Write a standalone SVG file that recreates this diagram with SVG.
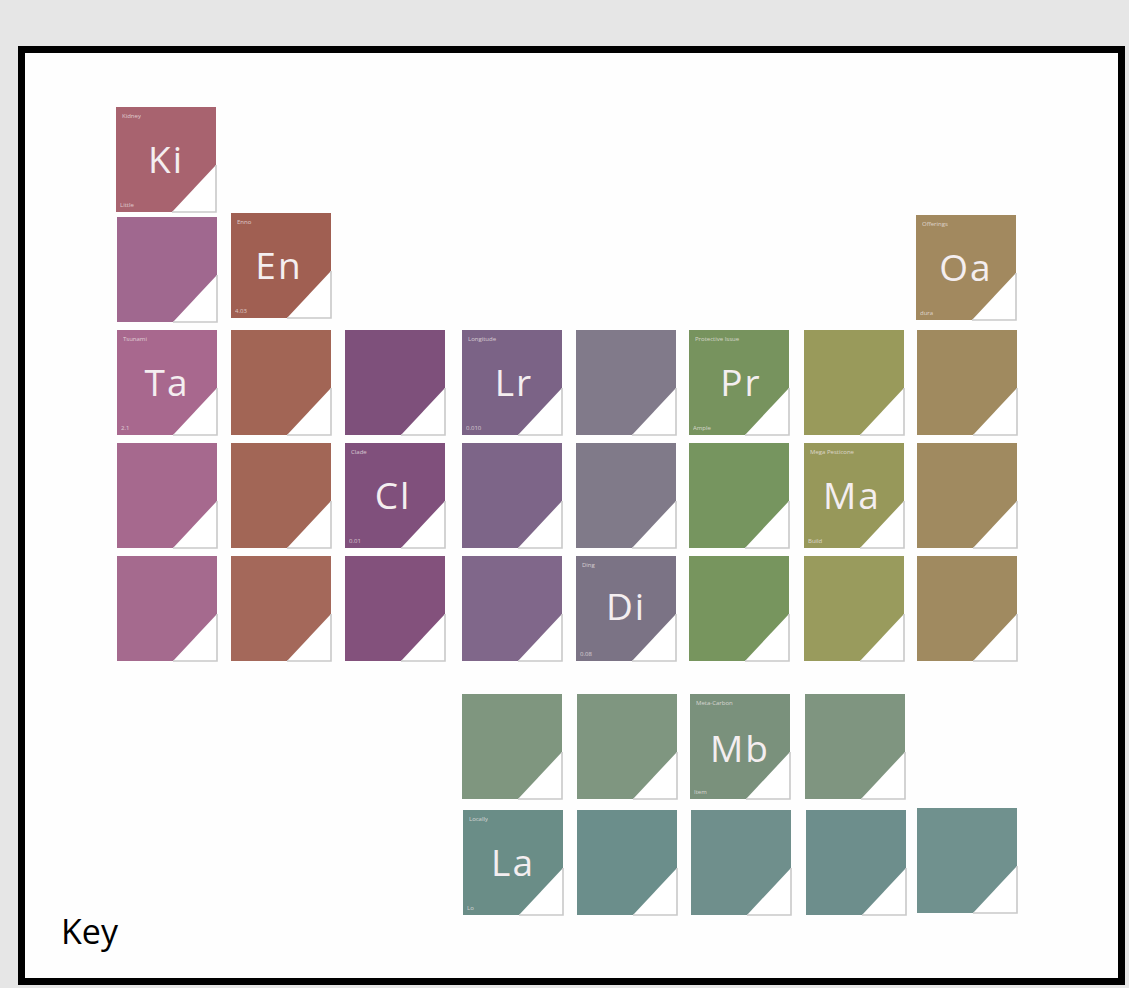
<svg xmlns="http://www.w3.org/2000/svg" width="1129" height="988" viewBox="0 0 1129 988">
<style>
.sym{font-family:"Open Sans","Liberation Sans",sans-serif;font-size:37px;fill:#f4eef0;text-anchor:middle;letter-spacing:2px}
.sm{font-family:"Open Sans","Liberation Sans",sans-serif;font-size:6px;fill:#f2eaea;opacity:0.75}
.cut{fill:#ffffff}
.edge{fill:none;stroke:#c9c9c9;stroke-width:1.6}
.key{font-family:"Open Sans","Liberation Sans",sans-serif;font-size:34px;fill:#000}
</style>
<defs>
<g id="corner">
<polygon class="cut" points="100,58 100,105 56,105"/>
<polyline class="edge" points="100,58 100,105 56,105"/>
</g>
</defs>
<rect width="1129" height="988" fill="#e6e6e6"/>
<rect x="21.5" y="49.5" width="1100" height="932" fill="#fefefe" stroke="#000" stroke-width="7"/>
<g id="nodes">
<g id="Ki" transform="translate(116,107)"><rect width="100" height="105" fill="#a8636f"/><use href="#corner"/><text class="sm" x="6" y="11">Kidney</text><text class="sm" x="4" y="100">Little</text><text class="sym" x="50" y="66">Ki</text></g>
<g id="r2c1" transform="translate(117,217)"><rect width="100" height="105" fill="#a0688f"/><use href="#corner"/></g>
<g id="En" transform="translate(231,213)"><rect width="100" height="105" fill="#a05f52"/><use href="#corner"/><text class="sm" x="6" y="11">Enno</text><text class="sm" x="4" y="100">4.03</text><text class="sym" x="48" y="66">En</text></g>
<g id="Oa" transform="translate(916,215)"><rect width="100" height="105" fill="#a2895f"/><use href="#corner"/><text class="sm" x="6" y="11">Offerings</text><text class="sm" x="4" y="100">dura</text><text class="sym" x="50" y="66">Oa</text></g>

<g id="Ta" transform="translate(117,330)"><rect width="100" height="105" fill="#a8688e"/><use href="#corner"/><text class="sm" x="6" y="11">Tsunami</text><text class="sm" x="4" y="100">2.1</text><text class="sym" x="50" y="66">Ta</text></g>
<g id="r3c2" transform="translate(231,330)"><rect width="100" height="105" fill="#a26555"/><use href="#corner"/></g>
<g id="r3c3" transform="translate(345,330)"><rect width="100" height="105" fill="#7e507b"/><use href="#corner"/></g>
<g id="Lr" transform="translate(462,330)"><rect width="100" height="105" fill="#7b6386"/><use href="#corner"/><text class="sm" x="6" y="11">Longitude</text><text class="sm" x="4" y="100">0.010</text><text class="sym" x="52" y="66">Lr</text></g>
<g id="r3c5" transform="translate(576,330)"><rect width="100" height="105" fill="#817a8a"/><use href="#corner"/></g>
<g id="Pr" transform="translate(689,330)"><rect width="100" height="105" fill="#77935e"/><use href="#corner"/><text class="sm" x="6" y="11">Protective Issue</text><text class="sm" x="4" y="100">Ample</text><text class="sym" x="52" y="66">Pr</text></g>
<g id="r3c7" transform="translate(804,330)"><rect width="100" height="105" fill="#999a5b"/><use href="#corner"/></g>
<g id="r3c8" transform="translate(917,330)"><rect width="100" height="105" fill="#a08a5f"/><use href="#corner"/></g>

<g id="r4c1" transform="translate(117,443)"><rect width="100" height="105" fill="#a6698e"/><use href="#corner"/></g>
<g id="r4c2" transform="translate(231,443)"><rect width="100" height="105" fill="#a26656"/><use href="#corner"/></g>
<g id="Cl" transform="translate(345,443)"><rect width="100" height="105" fill="#80507c"/><use href="#corner"/><text class="sm" x="6" y="11">Clade</text><text class="sm" x="4" y="100">0.01</text><text class="sym" x="48" y="66">Cl</text></g>
<g id="r4c4" transform="translate(462,443)"><rect width="100" height="105" fill="#7d6588"/><use href="#corner"/></g>
<g id="r4c5" transform="translate(576,443)"><rect width="100" height="105" fill="#807a89"/><use href="#corner"/></g>
<g id="r4c6" transform="translate(689,443)"><rect width="100" height="105" fill="#76955f"/><use href="#corner"/></g>
<g id="Ma" transform="translate(804,443)"><rect width="100" height="105" fill="#97985a"/><use href="#corner"/><text class="sm" x="6" y="11">Mega Pesticone</text><text class="sm" x="4" y="100">Build</text><text class="sym" x="48" y="66">Ma</text></g>
<g id="r4c8" transform="translate(917,443)"><rect width="100" height="105" fill="#a08a60"/><use href="#corner"/></g>

<g id="r5c1" transform="translate(117,556)"><rect width="100" height="105" fill="#a56a8e"/><use href="#corner"/></g>
<g id="r5c2" transform="translate(231,556)"><rect width="100" height="105" fill="#a4685a"/><use href="#corner"/></g>
<g id="r5c3" transform="translate(345,556)"><rect width="100" height="105" fill="#83517c"/><use href="#corner"/></g>
<g id="r5c4" transform="translate(462,556)"><rect width="100" height="105" fill="#80678a"/><use href="#corner"/></g>
<g id="Di" transform="translate(576,556)"><rect width="100" height="105" fill="#7b7385"/><use href="#corner"/><text class="sm" x="6" y="11">Ding</text><text class="sm" x="4" y="100">0.08</text><text class="sym" x="50" y="64">Di</text></g>
<g id="r5c6" transform="translate(689,556)"><rect width="100" height="105" fill="#77955e"/><use href="#corner"/></g>
<g id="r5c7" transform="translate(804,556)"><rect width="100" height="105" fill="#999b5d"/><use href="#corner"/></g>
<g id="r5c8" transform="translate(917,556)"><rect width="100" height="105" fill="#a08a60"/><use href="#corner"/></g>

<g id="r6c4" transform="translate(462,694)"><rect width="100" height="105" fill="#7f967f"/><use href="#corner"/></g>
<g id="r6c5" transform="translate(577,694)"><rect width="100" height="105" fill="#7f9680"/><use href="#corner"/></g>
<g id="Mb" transform="translate(690,694)"><rect width="100" height="105" fill="#7a917c"/><use href="#corner"/><text class="sm" x="6" y="11">Meta-Carbon</text><text class="sm" x="4" y="100">Item</text><text class="sym" x="50" y="68">Mb</text></g>
<g id="r6c7" transform="translate(805,694)"><rect width="100" height="105" fill="#7f9580"/><use href="#corner"/></g>

<g id="La" transform="translate(463,810)"><rect width="100" height="105" fill="#6a8d87"/><use href="#corner"/><text class="sm" x="6" y="11">Locally</text><text class="sm" x="4" y="100">Lo</text><text class="sym" x="50" y="66">La</text></g>
<g id="r7c5" transform="translate(577,810)"><rect width="100" height="105" fill="#6b8e8b"/><use href="#corner"/></g>
<g id="r7c6" transform="translate(691,810)"><rect width="100" height="105" fill="#6f8f8c"/><use href="#corner"/></g>
<g id="r7c7" transform="translate(806,810)"><rect width="100" height="105" fill="#6d8e8c"/><use href="#corner"/></g>
<g id="r7c8" transform="translate(917,808)"><rect width="100" height="105" fill="#70918e"/><use href="#corner"/></g>
</g>
<g id="connectors"/>
<text class="key" x="61" y="944">Key</text>
</svg>
